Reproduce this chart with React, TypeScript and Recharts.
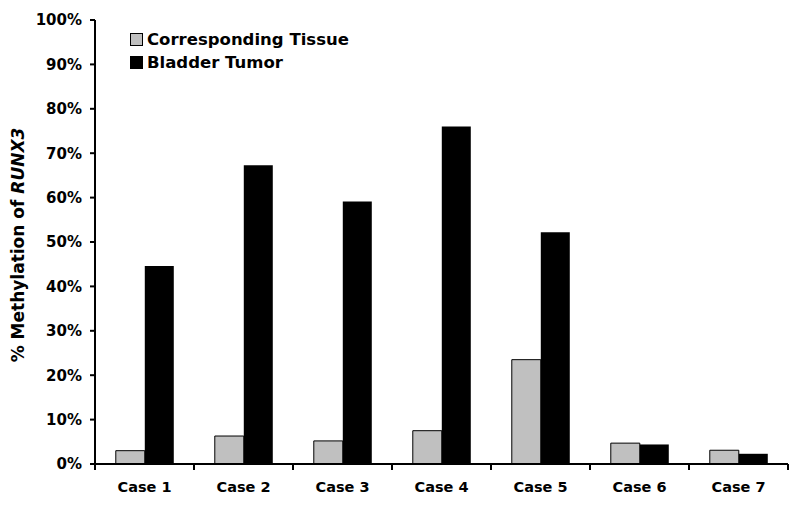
import { BarChart, Bar, XAxis, YAxis } from 'recharts';

const CASES = ['Case 1', 'Case 2', 'Case 3', 'Case 4', 'Case 5', 'Case 6', 'Case 7'];
const TISSUE = [3.0, 6.3, 5.2, 7.5, 23.5, 4.7, 3.1];
const TUMOR = [44.6, 67.3, 59.1, 76.0, 52.2, 4.4, 2.3];
const Y_TICKS = [0, 10, 20, 30, 40, 50, 60, 70, 80, 90, 100];

const data = CASES.map((c, i) => ({ name: c, tissue: TISSUE[i], tumor: TUMOR[i] }));

const FONT = '"DejaVu Sans", Verdana, sans-serif';

function CaseTick(props: any) {
  const { x, y, payload, index } = props;
  const off = payload.offset ?? 0;
  return (
    <g>
      {index === 0 && <line x1={x - off} x2={x - off} y1={y} y2={y + 6} stroke="#000" strokeWidth={2} />}
      <line x1={x + off} x2={x + off} y1={y} y2={y + 6} stroke="#000" strokeWidth={2} />
      <text x={x} y={y + 28} textAnchor="middle" fontFamily={FONT} fontWeight="bold" fontSize={14.5} fill="#000">
        {payload.value}
      </text>
    </g>
  );
}

function AxisTitle() {
  return (
    <text
      x={19}
      y={245}
      transform="rotate(-90 19 245)"
      textAnchor="middle"
      dominantBaseline="middle"
      fontFamily={FONT}
      fontWeight="bold"
      fontSize={17}
      fill="#000"
    >
      % Methylation of <tspan fontStyle="italic">RUNX3</tspan>
    </text>
  );
}

const LEGEND = [
  { label: 'Corresponding Tissue', fill: '#c0c0c0' },
  { label: 'Bladder Tumor', fill: '#000' },
];

function LegendBox() {
  return (
    <div
      style={{
        position: 'absolute',
        left: 130,
        top: 28,
        fontFamily: FONT,
        fontWeight: 'bold',
        fontSize: 16.5,
        lineHeight: '23px',
      }}
    >
      {LEGEND.map((it) => (
        <div key={it.label} style={{ display: 'flex', alignItems: 'center', height: 23 }}>
          <span
            style={{
              width: 11,
              height: 11,
              background: it.fill,
              border: '1px solid #000',
              marginRight: 4,
              display: 'inline-block',
            }}
          />
          {it.label}
        </div>
      ))}
    </div>
  );
}

export default function App() {
  return (
    <div style={{ position: 'fixed', left: 0, top: 0, width: 800, height: 510, background: '#fff' }}>
      <BarChart
        width={800}
        height={510}
        data={data}
        margin={{ top: 20, right: 12, bottom: 0, left: 0 }}
        barCategoryGap="21%"
        barGap={0}
      >
        <XAxis
          dataKey="name"
          height={46}
          axisLine={{ stroke: '#000', strokeWidth: 2 }}
          tickLine={false}
          tickSize={0}
          tickMargin={0}
          tick={<CaseTick />}
          interval={0}
        />
        <YAxis
          width={95}
          domain={[0, 100]}
          ticks={Y_TICKS}
          interval={0}
          axisLine={{ stroke: '#000', strokeWidth: 2 }}
          tickLine={{ stroke: '#000', strokeWidth: 2 }}
          tickSize={5}
          tickMargin={8}
          tickFormatter={(v) => `${v}%`}
          tick={{ fontFamily: FONT, fontWeight: 'bold', fontSize: 15, fill: '#000' }}
          label={{ content: () => <AxisTitle /> }}
        />
        <Bar dataKey="tissue" name="Corresponding Tissue" fill="#c0c0c0" stroke="#000" strokeWidth={1} isAnimationActive={false} />
        <Bar dataKey="tumor" name="Bladder Tumor" fill="#000" isAnimationActive={false} />
      </BarChart>
      <LegendBox />
    </div>
  );
}
